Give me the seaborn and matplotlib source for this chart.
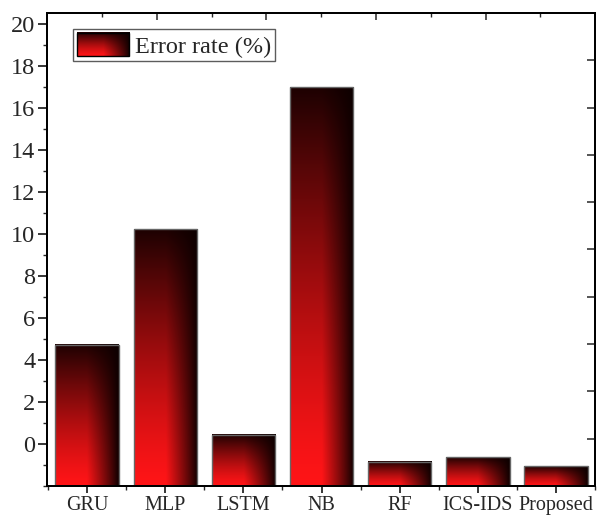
#!/usr/bin/env python3

import numpy as np
import pandas as pd
import matplotlib
matplotlib.use("Agg")
import matplotlib.pyplot as plt
import seaborn as sns
from matplotlib.patches import Rectangle
from matplotlib.legend_handler import HandlerBase
from matplotlib.image import BboxImage
from matplotlib.transforms import Bbox, TransformedBbox

# values
models = ["GRU", "MLP", "LSTM", "NB", "RF", "ICS-IDS", "Proposed"]
error_rate = [4.74, 10.25, 0.45, 17.0, -0.85, -0.64, -1.07]
y_ticks = [0, 2, 4, 6, 8, 10, 12, 14, 16, 18, 20]
baseline = -2  # bars rise from the bottom of the axis


def make_gradient(n=160):
    # red in the lower left, fading to black at the top and right edge
    ty = np.linspace(1, 0, n)[:, None]
    tx = np.linspace(0, 1, n)[None, :]
    vert = 1 - 0.93 * ty ** 1.3
    horiz = np.clip((1 - tx) / 0.5, 0.04, 1.0) ** 0.9
    level = vert * horiz
    rgb = np.stack([0.05 + 0.95 * level, 0.08 * level, 0.09 * level], axis=-1)
    return np.clip(rgb, 0, 1)


class GradientHandler(HandlerBase):
    def create_artists(self, legend, orig_handle, xdescent, ydescent,
                       width, height, fontsize, trans):
        bb = TransformedBbox(Bbox.from_bounds(-xdescent, -ydescent, width, height), trans)
        img = BboxImage(bb, origin="upper")
        img.set_data(make_gradient())
        frame = Rectangle((-xdescent, -ydescent), width, height, facecolor="none",
                          edgecolor="black", lw=1.0, transform=trans)
        return [img, frame]


sns.set_style("ticks")
plt.rcParams["font.family"] = ["Liberation Serif", "DejaVu Serif"]

df = pd.DataFrame({"model": models, "height": np.array(error_rate) - baseline})

fig = plt.figure(figsize=(5.97, 5.17), dpi=100)
ax = fig.add_axes([0.079, 0.060, 0.918, 0.915])

sns.barplot(data=df, x="model", y="height", order=models, width=0.81,
            bottom=baseline, color="#8b0000", edgecolor="#666666", linewidth=1.0,
            ax=ax)

xlim = (-0.51, 6.5)
ylim = (-2, 20.55)

# paint each bar with its own gradient
grad = make_gradient()
for p in ax.patches:
    x0, y0 = p.get_x(), p.get_y()
    w, h = p.get_width(), p.get_height()
    ax.imshow(grad, extent=[x0, x0 + w, y0, y0 + h], origin="upper",
              aspect="auto", zorder=p.get_zorder() + 0.1, interpolation="bilinear")
    p.set_facecolor("none")
    p.set_zorder(p.get_zorder() + 0.2)

ax.set_xlim(*xlim)
ax.set_ylim(*ylim)
ax.set_aspect("auto")

# extra tick rows on the top and right frame edges
top = ax.twiny()
top.set_xlim(0, 10)
top.set_xticks([2, 4, 6, 8])
top.set_xticks([1, 3, 5, 7, 9], minor=True)
top.tick_params(axis="x", which="major", direction="in", length=5, width=1.1, labeltop=False)
top.tick_params(axis="x", which="minor", direction="in", length=3, width=1.0)
right = ax.twinx()
right.set_ylim(0, 10)
right.set_yticks(np.arange(1, 10))
right.tick_params(axis="y", direction="in", length=6, width=1.1, labelright=False)
for a in (top, right):
    for s in a.spines.values():
        s.set_linewidth(1.2)
        s.set_color("black")

ax.set_xlabel("")
ax.set_ylabel("")
ax.set_yticks(y_ticks)
ax.set_yticklabels([str(t) for t in y_ticks])
ax.set_yticks(np.arange(-2, 21, 1), minor=True)
ax.set_xticks(np.arange(-0.5, 6.6, 1.0), minor=True)
ax.tick_params(axis="both", which="major", width=1.1, direction="out", color="black")
ax.tick_params(axis="both", which="minor", width=1.0, length=3, direction="out")
ax.tick_params(axis="x", which="major", labelsize=14.5, length=5, pad=2)
ax.tick_params(axis="y", which="major", labelsize=17.5, length=6.5, pad=2,
               left=True, labelleft=True)

for s in ax.spines.values():
    s.set_visible(True)
    s.set_linewidth(1.2)
    s.set_color("black")

proxy = Rectangle((0, 0), 1, 1)
leg = ax.legend(handles=[proxy], labels=["Error rate (%)"],
                handler_map={Rectangle: GradientHandler()},
                loc="upper left", bbox_to_anchor=(0.047, 0.966),
                fontsize=17.5, frameon=True, fancybox=False,
                handlelength=2.15, handleheight=1.12, handletextpad=0.25,
                borderpad=0.15, borderaxespad=0.0)
leg.get_frame().set_edgecolor("#333333")
leg.get_frame().set_linewidth(1.0)
leg.set_zorder(10)

fig.savefig("out.png", dpi=100)
plt.close(fig)
